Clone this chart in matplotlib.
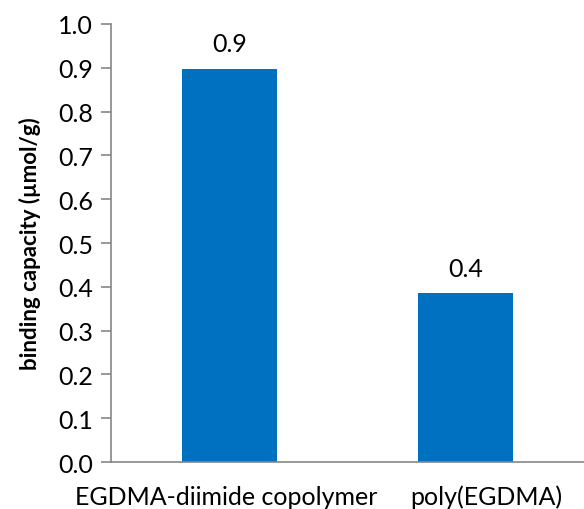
import matplotlib.pyplot as plt

categories = ["EGDMA-diimide copolymer", "poly(EGDMA)"]
capacity = [0.897, 0.385]
value_labels = ["0.9", "0.4"]

plt.rcParams["font.family"] = ["Lato", "DejaVu Sans"]

fig = plt.figure(figsize=(5.84, 5.10), dpi=100)
ax = fig.add_axes([0.190, 0.092, 0.810, 0.859])

x = range(len(categories))
rects = ax.bar(x, capacity, width=0.4, color="#0070C0")
ax.bar_label(rects, labels=value_labels, padding=10, fontsize=18)

ax.set_xlim(-0.5, 1.5)
ax.set_ylim(0, 1.0)
ax.set_yticks([i / 10 for i in range(11)])
ax.set_yticklabels([f"{i / 10:.1f}" for i in range(11)], fontsize=18)
ax.set_xticks(list(x))
ax.set_xticklabels([])

# category labels, the second one nudged right like Excel does
shifts = [-2, 15]
for i, (cat, dx) in enumerate(zip(categories, shifts)):
    ax.annotate(cat, xy=(i, 0), xycoords=("data", "axes fraction"),
                xytext=(dx, -24.5), textcoords="offset points",
                ha="center", va="center", fontsize=18, annotation_clip=False)

for side in ("top", "right"):
    ax.spines[side].set_visible(False)
for side in ("left", "bottom"):
    ax.spines[side].set_color("#868686")
    ax.spines[side].set_linewidth(1.2)
ax.tick_params(axis="y", length=7, width=1.2, color="#868686", pad=6)
ax.tick_params(axis="x", length=0)

ax.set_ylabel("binding capacity (µmol/g)", fontsize=16, fontweight="bold", labelpad=12)

fig.savefig("out.png", dpi=100)
